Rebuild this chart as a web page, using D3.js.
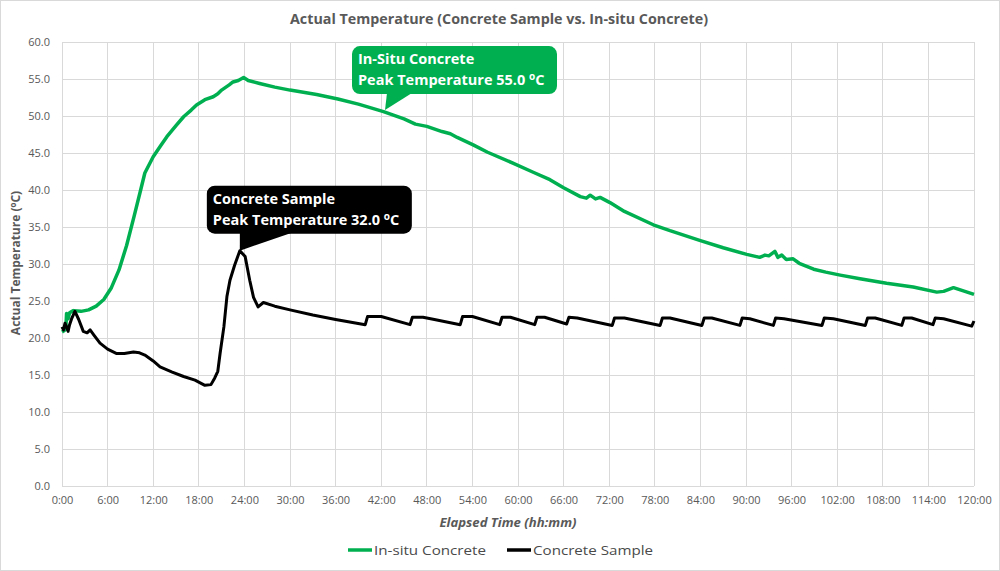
<!DOCTYPE html>
<html><head><meta charset="utf-8">
<script src="https://cdn.jsdelivr.net/npm/d3@7"></script>
<style>body{margin:0;background:#fff}</style>
</head><body><svg id="c" width="1000" height="571"></svg>
<script>
// ---------- DATA ----------
const insituTime = [0,0.3,0.5,0.6,0.8,1.0,1.5,2.5,3.5,4.5,5.5,6.5,7.5,8.5,9.5,10.3,10.9,12.0,13.0,13.8,15.0,16.0,17.0,17.7,18.8,19.9,20.5,21.0,22.0,22.5,23.2,23.9,24.5,26.0,28.0,30.0,33.5,36.3,39.0,42.3,45.0,46.5,48.0,50.0,51.1,52.0,54.1,56.0,59.4,62.0,64.2,66.0,68.2,69.0,69.5,70.2,70.8,72.1,74.0,77.8,80.0,83.9,87.0,90.1,91.8,92.5,93.0,93.8,94.2,94.7,95.3,96.2,97.0,98.9,100.5,102.4,105.0,108.5,112.0,115.1,116.0,117.3,118.5,120];
const insituTemp = [20.8,21.0,21.2,23.3,22.6,23.4,23.7,23.6,23.8,24.3,25.2,26.8,29.2,32.5,36.5,39.8,42.3,44.5,46.0,47.2,48.7,49.9,50.8,51.5,52.2,52.6,53.0,53.5,54.2,54.6,54.8,55.2,54.8,54.4,53.9,53.5,52.9,52.3,51.6,50.6,49.6,48.9,48.6,47.9,47.6,47.1,46.1,45.1,43.6,42.4,41.4,40.3,39.1,38.9,39.3,38.8,39.0,38.3,37.1,35.3,34.5,33.2,32.2,31.3,30.9,31.2,31.1,31.7,30.9,31.2,30.6,30.7,30.1,29.3,28.9,28.5,28.0,27.4,26.9,26.2,26.3,26.8,26.4,25.9];

const sampleTime = [0,0.2,0.4,0.6,0.8,1.0,1.3,1.7,2.2,2.8,3.3,3.7,4.2,5.0,6.0,7.2,8.2,9.4,10.2,10.9,12.0,12.9,14.5,16.0,17.5,18.8,19.6,20.1,20.5,20.8,21.3,21.7,22.1,22.7,23.4,24.1,24.7,25.2,25.8,26.5,28.0,30.0,33.0,36.0,
  39.9,40.2,42.0,45.8,46.1,47.5,49.0,52.4,52.7,54.0,57.6,57.9,59.0,62.2,62.5,63.5,66.4,66.7,67.8,72.4,72.7,74.0,78.7,79.0,80.0,84.2,84.5,85.5,89.2,89.5,90.5,93.6,93.9,95.0,100.0,100.3,101.5,105.7,106.0,107.0,110.5,110.8,111.8,114.6,114.9,116.0,119.7,120.0];
const sampleTemp = [21.5,21.1,22.0,21.5,20.9,21.8,22.7,23.6,22.5,20.9,20.7,21.1,20.4,19.3,18.5,17.9,17.9,18.1,18.0,17.7,16.9,16.1,15.4,14.8,14.3,13.6,13.7,14.6,15.5,17.9,21.5,25.6,27.8,29.8,31.8,31.0,27.8,25.5,24.2,24.8,24.3,23.8,23.1,22.5,
  21.8,22.9,22.9,21.8,22.8,22.8,22.5,21.8,22.9,22.9,21.8,22.8,22.8,21.8,22.8,22.8,21.9,22.8,22.7,21.7,22.7,22.7,21.7,22.7,22.7,21.7,22.7,22.7,21.7,22.7,22.6,21.7,22.7,22.6,21.7,22.7,22.6,21.7,22.7,22.7,21.7,22.7,22.7,21.8,22.7,22.6,21.6,22.3];

const xTickHours = [0,6,12,18,24,30,36,42,48,54,60,66,72,78,84,90,96,102,108,114,120];
const xTickLabels = ["0:00","6:00","12:00","18:00","24:00","30:00","36:00","42:00","48:00","54:00","60:00","66:00","72:00","78:00","84:00","90:00","96:00","102:00","108:00","114:00","120:00"];
const yTicks = [0,5,10,15,20,25,30,35,40,45,50,55,60];

const seriesNames = ["In-situ Concrete","Concrete Sample"];
const seriesColors = ["#00b050","#000000"];
const titleText = "Actual Temperature (Concrete Sample vs. In-situ Concrete)";
const xTitleText = "Elapsed Time (hh:mm)";
// callout anchors (time, temp) and texts
const insituCallout = {t:42.5, v:50.8, line1:"In-Situ Concrete", line2:"Peak Temperature 55.0 "};
const sampleCallout = {t:23.4, v:31.8, line1:"Concrete Sample", line2:"Peak Temperature 32.0 "};

// ---------- CHART ----------
const W=1000,H=571;
const m={l:62,r:26,t:42,b:85};
const svg=d3.select("#c");
svg.append("rect").attr("x",0.5).attr("y",0.5).attr("width",W-1).attr("height",H-1).attr("fill","#fff").attr("stroke","#d9d9d9");

const x=d3.scaleLinear().domain([0,120]).range([m.l,W-m.r]);
const y=d3.scaleLinear().domain([0,60]).range([H-m.b,m.t]);

// gridlines
const g=svg.append("g");
g.selectAll(".vg").data(xTickHours).enter().append("line")
 .attr("x1",d=>x(d)).attr("x2",d=>x(d)).attr("y1",y(0)).attr("y2",y(60))
 .attr("stroke","#d9d9d9").attr("stroke-width",1).attr("shape-rendering","crispEdges");
g.selectAll(".hg").data(yTicks).enter().append("line")
 .attr("x1",x(0)).attr("x2",x(120)).attr("y1",d=>y(d)).attr("y2",d=>y(d))
 .attr("stroke","#d9d9d9").attr("stroke-width",1).attr("shape-rendering","crispEdges");

// axes (labels only)
const yAxis=d3.axisLeft(y).tickValues(yTicks).tickFormat(d3.format(".1f")).tickSize(0).tickPadding(12);
const ya=svg.append("g").attr("transform",`translate(${m.l},0)`).call(yAxis);
ya.select(".domain").remove();
ya.selectAll("text").attr("font-family","'Open Sans',sans-serif").attr("font-size",11).attr("fill","#595959");

const xAxis=d3.axisBottom(x).tickValues(xTickHours).tickFormat((d,i)=>xTickLabels[i]).tickSize(0).tickPadding(10);
const xa=svg.append("g").attr("transform",`translate(0,${y(0)})`).call(xAxis);
xa.select(".domain").remove();
xa.selectAll("text").attr("font-family","'Open Sans',sans-serif").attr("font-size",11).attr("fill","#595959");

// lines
const line=d3.line().x(d=>x(d[0])).y(d=>y(d[1]));
const insituData=insituTime.map((t,i)=>[t,insituTemp[i]]);
const sampleData=sampleTime.map((t,i)=>[t,sampleTemp[i]]);
svg.append("path").datum(insituData).attr("d",line).attr("fill","none").attr("stroke",seriesColors[0]).attr("stroke-width",3.5).attr("stroke-linejoin","round");
svg.append("path").datum(sampleData).attr("d",line).attr("fill","none").attr("stroke",seriesColors[1]).attr("stroke-width",3).attr("stroke-linejoin","round");

// title
svg.append("text").attr("x",499).attr("y",24).attr("text-anchor","middle")
 .attr("font-family","'Liberation Sans Narrow','Open Sans',sans-serif").attr("font-weight","bold").attr("font-size",15)
 .attr("fill","#595959").attr("textLength",418).attr("lengthAdjust","spacingAndGlyphs").text(titleText);

// x title
svg.append("text").attr("x",508).attr("y",527).attr("text-anchor","middle")
 .attr("font-family","'Open Sans',sans-serif").attr("font-weight","bold").attr("font-style","italic").attr("font-size",12)
 .attr("fill","#595959").attr("textLength",137).attr("lengthAdjust","spacingAndGlyphs").text(xTitleText);

// y title
const yt=svg.append("text").attr("transform","translate(20,263) rotate(-90)").attr("text-anchor","middle")
 .attr("font-family","'Open Sans',sans-serif").attr("font-weight","bold").attr("font-size",12).attr("fill","#595959");
yt.append("tspan").text("Actual Temperature (");
yt.append("tspan").attr("font-size",8).attr("dy",-4).text("o");
yt.append("tspan").attr("dy",4).text("C)");

// legend
const leg=[{x:348,tw:112},{x:507,tw:120}];
seriesNames.forEach((n,i)=>{
  svg.append("line").attr("x1",leg[i].x).attr("x2",leg[i].x+24).attr("y1",550).attr("y2",550).attr("stroke",seriesColors[i]).attr("stroke-width",3.5);
  svg.append("text").attr("x",leg[i].x+26).attr("y",555).attr("font-family","'Open Sans',sans-serif").attr("font-size",13)
   .attr("fill","#4a4a4a").attr("textLength",leg[i].tw).attr("lengthAdjust","spacingAndGlyphs").text(n);
});

// callouts
function callout(c,color,dx,dy,bw,bh,p1,p2){
  const tx=x(c.t), ty=y(c.v);
  const bx=tx+dx, by=ty+dy;
  const gg=svg.append("g");
  gg.append("rect").attr("x",bx).attr("y",by).attr("width",bw).attr("height",bh).attr("rx",8).attr("fill",color);
  gg.append("path").attr("d",`M${tx+p1},${by+bh-1}L${tx+p2},${by+bh-1}L${tx},${ty}Z`).attr("fill",color);
  gg.append("text").attr("x",bx+6).attr("y",by+18).attr("font-family","'Open Sans',sans-serif").attr("font-weight","bold").attr("font-size",14.5).attr("fill","#fff").text(c.line1);
  const t2=gg.append("text").attr("x",bx+6).attr("y",by+39).attr("font-family","'Open Sans',sans-serif").attr("font-weight","bold").attr("font-size",14.5).attr("fill","#fff");
  t2.append("tspan").text(c.line2);
  t2.append("tspan").attr("font-size",10).attr("dy",-5).text("o");
  t2.append("tspan").attr("dy",5).text("C");
}
callout(insituCallout,"#00b050",-33,-64,205,48,2,27);
callout(sampleCallout,"#000000",-33,-65,205,48,0,52);
</script></body></html>
